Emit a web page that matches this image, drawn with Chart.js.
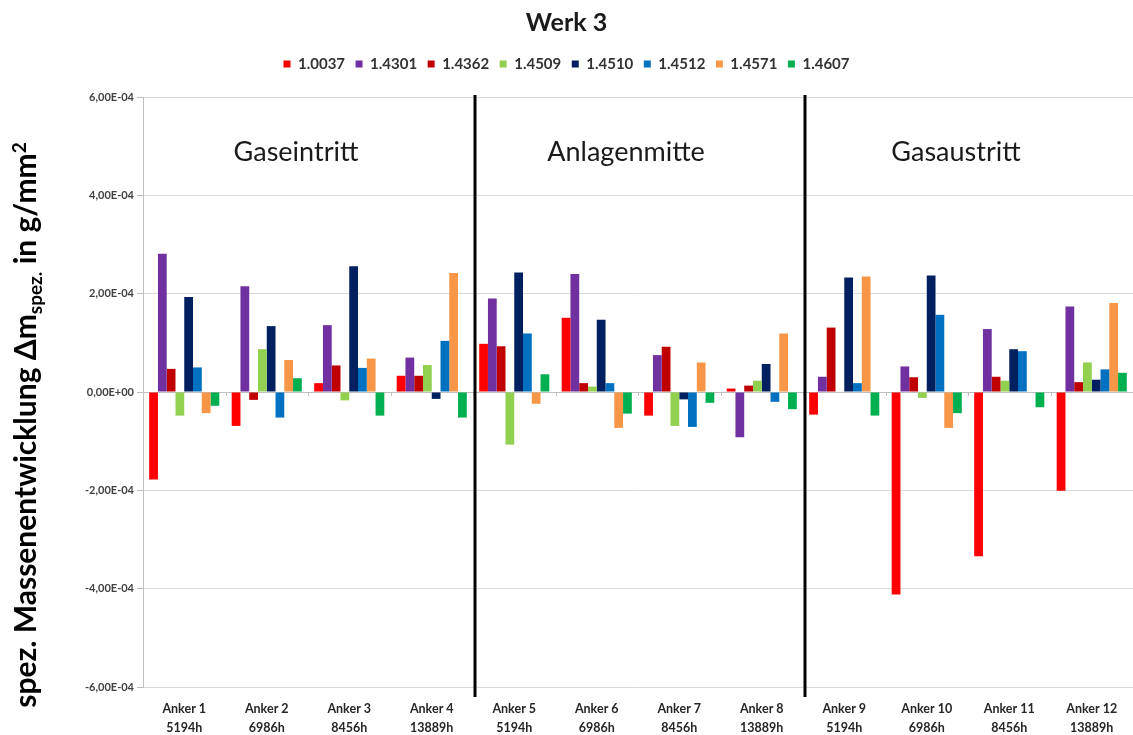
<!DOCTYPE html>
<html><head><meta charset="utf-8">
<script src="https://cdn.jsdelivr.net/npm/chart.js@4"></script>
<style>html,body{margin:0;padding:0;background:#fff;}#wrap{width:1133px;height:735px;}</style>
</head><body><div id="wrap"><canvas id="c" width="1133" height="735"></canvas></div>
<script>
const categories = [
  ['Anker 1','5194h'],['Anker 2','6986h'],['Anker 3','8456h'],['Anker 4','13889h'],
  ['Anker 5','5194h'],['Anker 6','6986h'],['Anker 7','8456h'],['Anker 8','13889h'],
  ['Anker 9','5194h'],['Anker 10','6986h'],['Anker 11','8456h'],['Anker 12','13889h']
];
const seriesNames = ['1.0037','1.4301','1.4362','1.4509','1.4510','1.4512','1.4571','1.4607'];
const s10037 = [-1.78e-4,-0.69e-4,0.18e-4,0.33e-4,0.98e-4,1.51e-4,-0.48e-4,0.07e-4,-0.46e-4,-4.12e-4,-3.34e-4,-2.01e-4];
const s14301 = [2.81e-4,2.15e-4,1.36e-4,0.70e-4,1.90e-4,2.40e-4,0.75e-4,-0.92e-4,0.31e-4,0.52e-4,1.28e-4,1.74e-4];
const s14362 = [0.47e-4,-0.16e-4,0.54e-4,0.33e-4,0.93e-4,0.18e-4,0.92e-4,0.13e-4,1.31e-4,0.30e-4,0.31e-4,0.20e-4];
const s14509 = [-0.48e-4,0.87e-4,-0.17e-4,0.55e-4,-1.07e-4,0.11e-4,-0.69e-4,0.23e-4,0,-0.12e-4,0.23e-4,0.60e-4];
const s14510 = [1.93e-4,1.34e-4,2.56e-4,-0.14e-4,2.43e-4,1.47e-4,-0.15e-4,0.57e-4,2.33e-4,2.37e-4,0.87e-4,0.25e-4];
const s14512 = [0.50e-4,-0.52e-4,0.49e-4,1.04e-4,1.19e-4,0.18e-4,-0.71e-4,-0.20e-4,0.18e-4,1.57e-4,0.83e-4,0.46e-4];
const s14571 = [-0.43e-4,0.65e-4,0.68e-4,2.42e-4,-0.24e-4,-0.73e-4,0.60e-4,1.19e-4,2.35e-4,-0.73e-4,0,1.81e-4];
const s14607 = [-0.28e-4,0.28e-4,-0.48e-4,-0.52e-4,0.36e-4,-0.44e-4,-0.22e-4,-0.35e-4,-0.48e-4,-0.43e-4,-0.31e-4,0.39e-4];
const seriesValues = [s10037,s14301,s14362,s14509,s14510,s14512,s14571,s14607];
const seriesColors = ['#ff0000','#7030a0','#c00000','#92d050','#002060','#0070c0','#f79646','#00b050'];
const yMin = -6e-4, yMax = 6e-4, yStep = 2e-4;
const regions = [
  {label:'Gaseintritt', from:0, to:3},
  {label:'Anlagenmitte', from:4, to:7},
  {label:'Gasaustritt', from:8, to:11}
];
const chartTitle = 'Werk 3';

function fmtExp(v){
  if (Math.abs(v) < 1e-12) return '0,00E+00';
  const s = v.toExponential(2);
  const m = s.match(/^(-?\d\.\d\d)e([+-])(\d+)$/);
  const exp = m[3].length < 2 ? '0' + m[3] : m[3];
  return m[1].replace('.', ',') + 'E' + m[2] + exp;
}

const decor = {
  id: 'decor',
  afterDatasetsDraw(chart){
    const ctx = chart.ctx, x = chart.scales.x, y = chart.scales.y, ca = chart.chartArea;
    const y0 = y.getPixelForValue(0);
    ctx.save();
    ctx.strokeStyle = '#bfbfbf'; ctx.lineWidth = 1;
    for (let i = 0; i < categories.length - 1; i++){
      const px = Math.round((x.getPixelForValue(i) + x.getPixelForValue(i+1)) / 2) + 0.5;
      ctx.beginPath(); ctx.moveTo(px, y0); ctx.lineTo(px, y0 + 4); ctx.stroke();
    }
    ctx.strokeStyle = '#000'; ctx.lineWidth = 3;
    for (let r = 0; r < regions.length - 1; r++){
      const px = (x.getPixelForValue(regions[r].to) + x.getPixelForValue(regions[r+1].from)) / 2 + 2;
      ctx.beginPath(); ctx.moveTo(px, ca.top - 2); ctx.lineTo(px, ca.bottom + 10); ctx.stroke();
    }
    ctx.fillStyle = '#1a1a1a';
    ctx.font = '27px Lato';
    ctx.textAlign = 'center'; ctx.textBaseline = 'middle';
    regions.forEach(r => {
      const cx = (x.getPixelForValue(r.from) + x.getPixelForValue(r.to)) / 2 - 12;
      ctx.fillText(r.label, cx, ca.top + 55);
    });
    ctx.translate(36, 425);
    ctx.rotate(-Math.PI / 2);
    ctx.fillStyle = '#000';
    const parts = [
      {t:'spez. Massenentwicklung \u0394m', f:'bold 30px Lato', dy:0},
      {t:'spez.', f:'bold 19px Lato', dy:6},
      {t:' in g/mm', f:'bold 30px Lato', dy:0},
      {t:'2', f:'bold 19px Lato', dy:-10}
    ];
    let total = 0;
    parts.forEach(p => { ctx.font = p.f; p.w = ctx.measureText(p.t).width; total += p.w; });
    let cur = -total / 2;
    ctx.textAlign = 'left'; ctx.textBaseline = 'alphabetic';
    parts.forEach(p => { ctx.font = p.f; ctx.fillText(p.t, cur, p.dy); cur += p.w; });
    ctx.restore();
  }
};

new Chart(document.getElementById('c'), {
  type: 'bar',
  data: {
    labels: categories,
    datasets: seriesNames.map((n, i) => ({
      label: n, data: seriesValues[i], backgroundColor: seriesColors[i],
      borderWidth: 0, categoryPercentage: 0.85, barPercentage: 1.0
    }))
  },
  options: {
    responsive: false, animation: false,
    layout: { padding: { left: 0, right: 0, top: 0, bottom: 0 } },
    plugins: {
      title: { display: true, text: chartTitle, color: '#1a1a1a',
        font: { family: 'Lato', size: 25, weight: 'bold', lineHeight: 1.2 }, padding: { top: 7.5, bottom: 8.5 } },
      legend: { display: true, position: 'top',
        labels: { boxWidth: 7, boxHeight: 7, padding: 10.5, color: '#333',
          font: { family: 'Lato', size: 15, weight: 'bold' } } },
      subtitle: { display: true, text: ' ', weight: 500,
        font: { size: 1, lineHeight: 1 }, padding: { top: 0, bottom: 14.5 } },
      tooltip: { enabled: false }
    },
    scales: {
      x: {
        grid: { display: false, drawTicks: false },
        border: { display: false },
        ticks: { color: '#262626', font: { family: 'Lato', size: 12.5, weight: 'bold', lineHeight: 1.52 },
          padding: 12, maxRotation: 0, autoSkip: false },
        afterFit(s){ s.height = 48; }
      },
      y: {
        min: yMin, max: yMax,
        grid: { color: ctx => (ctx.tick && Math.abs(ctx.tick.value) < 1e-12) ? '#bfbfbf' : '#d9d9d9',
          tickLength: 6, tickColor: '#bfbfbf', lineWidth: 1 },
        border: { display: true, color: '#bfbfbf' },
        ticks: { stepSize: yStep, color: '#404040', padding: 3,
          font: { family: 'Lato', size: 11, weight: 'bold' },
          callback: v => fmtExp(v) },
        afterFit(s){ s.width = 143; }
      }
    }
  },
  plugins: [decor]
});
</script></body></html>
